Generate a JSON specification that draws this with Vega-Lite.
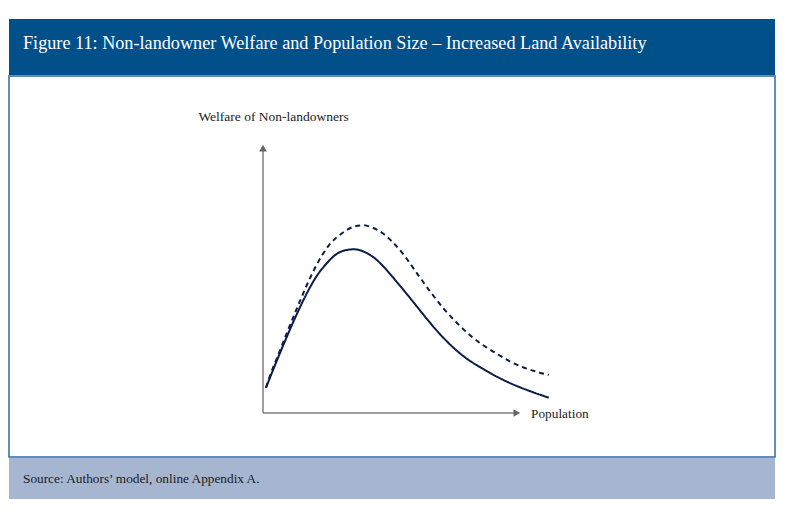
{
  "$schema": "https://vega.github.io/schema/vega-lite/v6.json",
  "padding": {"left": 8, "top": 19, "right": 0, "bottom": 0},
  "background": "white",
  "spacing": 0,
  "config": {
    "view": {"stroke": null},
    "font": "'Liberation Serif', 'DejaVu Serif', serif",
    "title": {"font": "'Liberation Serif', 'DejaVu Serif', serif", "fontWeight": "normal"},
    "text": {"font": "'Liberation Serif', 'DejaVu Serif', serif"}
  },
  "vconcat": [
    {
      "width": 766,
      "height": 56,
      "view": {"fill": "#01508a", "stroke": null},
      "title": {
        "text": "Figure 11: Non-landowner Welfare and Population Size – Increased Land Availability",
        "anchor": "start",
        "frame": "group",
        "offset": -34,
        "dx": 14,
        "color": "white",
        "fontSize": 18.2
      },
      "data": {"values": []},
      "mark": "text",
      "encoding": {}
    },
    {
      "width": 766,
      "height": 381,
      "view": {"fill": "white", "stroke": "#2d6aa3", "strokeWidth": 1.5},
      "encoding": {
        "x": {"field": "x", "type": "quantitative", "scale": {"domain": [0, 100], "range": [254, 512], "zero": false, "nice": false}, "axis": null},
        "y": {"field": "y", "type": "quantitative", "scale": {"domain": [0, 100], "range": [337, 68], "zero": false, "nice": false}, "axis": null}
      },
      "layer": [
        {
          "data": {"values": [
            {"axis": "Population", "x": 0, "y": 0, "x2": 97.5, "y2": 0},
            {"axis": "Welfare", "x": 0, "y": 0, "x2": 0, "y2": 97.5}
          ]},
          "mark": {"type": "rule", "color": "#7f7f7f", "strokeWidth": 1.5},
          "encoding": {"x2": {"field": "x2"}, "y2": {"field": "y2"}}
        },
        {
          "data": {"values": [{"axis": "Population", "x": 98.4, "y": 0}]},
          "mark": {"type": "point", "shape": "triangle-right", "filled": true, "size": 60, "color": "#666666", "opacity": 1}
        },
        {
          "data": {"values": [{"axis": "Welfare", "x": 0, "y": 98.5}]},
          "mark": {"type": "point", "shape": "triangle-up", "filled": true, "size": 60, "color": "#666666", "opacity": 1}
        },
        {
          "data": {"values": [
            {"series": "Baseline", "x": 1.16, "y": 9.41},
            {"series": "Baseline", "x": 5.04, "y": 18.7},
            {"series": "Baseline", "x": 8.91, "y": 27.6},
            {"series": "Baseline", "x": 12.79, "y": 36.1},
            {"series": "Baseline", "x": 16.67, "y": 43.9},
            {"series": "Baseline", "x": 20.54, "y": 50.5},
            {"series": "Baseline", "x": 24.42, "y": 55.35},
            {"series": "Baseline", "x": 28.29, "y": 58.95},
            {"series": "Baseline", "x": 32.17, "y": 60.55},
            {"series": "Baseline", "x": 35.39, "y": 60.86},
            {"series": "Baseline", "x": 39.92, "y": 59.59},
            {"series": "Baseline", "x": 43.80, "y": 57.14},
            {"series": "Baseline", "x": 47.67, "y": 53.42},
            {"series": "Baseline", "x": 51.55, "y": 49.07},
            {"series": "Baseline", "x": 55.43, "y": 44.6},
            {"series": "Baseline", "x": 58.64, "y": 40.8},
            {"series": "Baseline", "x": 63.84, "y": 34.6},
            {"series": "Baseline", "x": 68.99, "y": 28.9},
            {"series": "Baseline", "x": 74.15, "y": 24.0},
            {"series": "Baseline", "x": 79.34, "y": 19.96},
            {"series": "Baseline", "x": 84.50, "y": 16.84},
            {"series": "Baseline", "x": 89.65, "y": 14.01},
            {"series": "Baseline", "x": 94.84, "y": 11.52},
            {"series": "Baseline", "x": 100.0, "y": 9.41},
            {"series": "Baseline", "x": 105.16, "y": 7.55},
            {"series": "Baseline", "x": 110.74, "y": 5.69},
            {"series": "Increased land", "x": 1.16, "y": 9.41},
            {"series": "Increased land", "x": 2.44, "y": 13.12},
            {"series": "Increased land", "x": 6.32, "y": 22.6},
            {"series": "Increased land", "x": 10.19, "y": 32.0},
            {"series": "Increased land", "x": 14.07, "y": 41.0},
            {"series": "Increased land", "x": 17.95, "y": 49.6},
            {"series": "Increased land", "x": 21.82, "y": 56.9},
            {"series": "Increased land", "x": 25.70, "y": 62.5},
            {"series": "Increased land", "x": 30.89, "y": 67.03},
            {"series": "Increased land", "x": 34.77, "y": 69.14},
            {"series": "Increased land", "x": 38.64, "y": 69.78},
            {"series": "Increased land", "x": 42.52, "y": 68.88},
            {"series": "Increased land", "x": 46.40, "y": 66.8},
            {"series": "Increased land", "x": 50.27, "y": 63.5},
            {"series": "Increased land", "x": 54.15, "y": 59.3},
            {"series": "Increased land", "x": 59.96, "y": 51.56},
            {"series": "Increased land", "x": 65.12, "y": 44.72},
            {"series": "Increased land", "x": 70.27, "y": 38.55},
            {"series": "Increased land", "x": 75.47, "y": 33.2},
            {"series": "Increased land", "x": 80.62, "y": 28.62},
            {"series": "Increased land", "x": 85.78, "y": 24.91},
            {"series": "Increased land", "x": 90.97, "y": 21.82},
            {"series": "Increased land", "x": 96.12, "y": 18.96},
            {"series": "Increased land", "x": 101.28, "y": 16.84},
            {"series": "Increased land", "x": 106.47, "y": 15.24},
            {"series": "Increased land", "x": 110.74, "y": 14.13}
          ]},
          "mark": {"type": "line", "interpolate": "monotone", "color": "#0b1c47", "strokeWidth": 2},
          "encoding": {
            "detail": {"field": "series", "type": "nominal"},
            "strokeDash": {"field": "series", "type": "nominal", "scale": {"domain": ["Baseline", "Increased land"], "range": [[1, 0], [5, 4]]}, "legend": null}
          }
        },
        {
          "data": {"values": [{"label": "Welfare of Non-landowners", "x": 4.1, "y": 108.5}]},
          "mark": {"type": "text", "align": "center", "baseline": "alphabetic", "fontSize": 13.5, "color": "#222222"},
          "encoding": {"text": {"field": "label"}}
        },
        {
          "data": {"values": [{"label": "Population", "x": 103.9, "y": -0.5}]},
          "mark": {"type": "text", "align": "left", "baseline": "middle", "fontSize": 13.3, "color": "#222222"},
          "encoding": {"text": {"field": "label"}}
        }
      ]
    },
    {
      "width": 766,
      "height": 41,
      "view": {"fill": "#a7b6d0", "stroke": null},
      "title": {
        "text": "Source: Authors’ model, online Appendix A.",
        "anchor": "start",
        "frame": "group",
        "offset": -27,
        "dx": 14,
        "color": "#1a1a1a",
        "fontSize": 13.3
      },
      "data": {"values": []},
      "mark": "text",
      "encoding": {}
    }
  ]
}
